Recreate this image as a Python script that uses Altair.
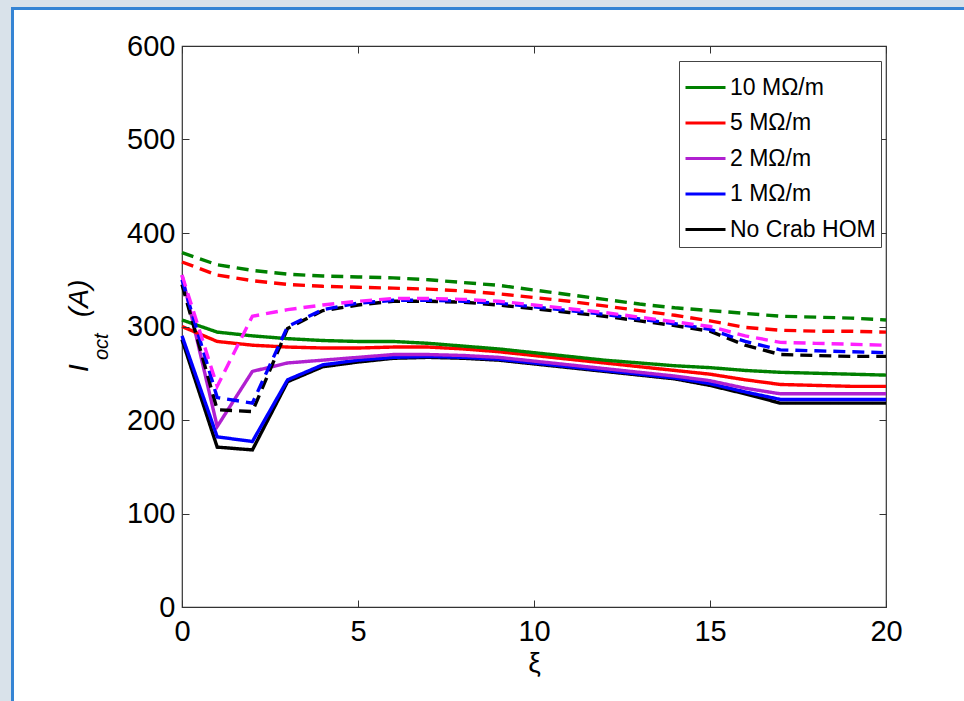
import altair as alt
import pandas as pd

xi = list(range(21))

names = ["10 MΩ/m", "5 MΩ/m", "2 MΩ/m", "1 MΩ/m", "No Crab HOM"]

solid_10 = [307, 294, 290, 287, 285, 284, 284, 282, 279, 276, 272, 268, 264, 261, 258, 256, 253, 251, 250, 249, 248]
solid_5 = [300, 284, 280, 278, 277, 277, 278, 278, 276, 273, 269, 265, 261, 257, 253, 249, 243, 238, 237, 236, 236]
solid_2 = [355, 193, 252, 261, 264, 267, 270, 270, 269, 267, 263, 259, 255, 251, 247, 242, 234, 228, 228, 228, 228]
solid_1 = [290, 182, 177, 243, 259, 264, 267, 268, 267, 265, 261, 257, 253, 249, 245, 239, 230, 222, 222, 222, 222]
solid_0 = [286, 171, 168, 241, 257, 262, 266, 267, 266, 264, 260, 256, 252, 248, 244, 237, 228, 218, 218, 218, 218]

dash_10 = [379, 366, 360, 356, 354, 353, 352, 350, 347, 344, 339, 334, 329, 324, 320, 317, 314, 311, 310, 309, 307]
dash_5 = [369, 355, 349, 345, 343, 342, 341, 340, 338, 335, 331, 327, 322, 317, 312, 306, 299, 296, 295, 295, 294]
dash_2 = [355, 236, 311, 318, 323, 327, 330, 330, 329, 327, 323, 319, 315, 310, 305, 300, 290, 283, 282, 281, 280]
dash_1 = [350, 224, 218, 300, 318, 325, 328, 328, 327, 325, 321, 317, 313, 308, 303, 297, 284, 275, 274, 273, 272]
dash_0 = [345, 211, 209, 298, 317, 323, 327, 327, 326, 323, 319, 315, 311, 306, 301, 295, 280, 270, 269, 268, 268]

solid_colors = ["#008000", "#ff0000", "#b020d0", "#0000ff", "#000000"]
dash_colors = ["#008000", "#ff0000", "#ff20ff", "#0000ff", "#000000"]

series = [
    (names[0], solid_10, dash_10),
    (names[1], solid_5, dash_5),
    (names[2], solid_2, dash_2),
    (names[3], solid_1, dash_1),
    (names[4], solid_0, dash_0),
]

rows = []
order = 0
for name, s, d in reversed(series):
    for x, v in zip(xi, s):
        rows.append({"xi": x, "I": v, "key": name, "kind": "solid", "ord": order})
    order += 1
for name, s, d in reversed(series):
    for x, v in zip(xi, d):
        rows.append({"xi": x, "I": v, "key": name + " dashed", "kind": "dashed", "ord": order})
    order += 1
df = pd.DataFrame(rows)

keys = names + [n + " dashed" for n in names]
colors = solid_colors + dash_colors

FONT = "Liberation Sans"
xscale = alt.Scale(domain=[0, 20], nice=False, zero=False)
yscale = alt.Scale(domain=[0, 600], nice=False)

lines = alt.Chart(df).mark_line(strokeWidth=3.4, strokeCap="butt").encode(
    x=alt.X("xi:Q", scale=xscale, axis=alt.Axis(
        orient="bottom", values=[0, 5, 10, 15, 20], offset=-7, tickSize=7, domain=False,
        grid=False, labelFontSize=29, labelFont=FONT, labelColor="#000", tickColor="#333",
        labelPadding=10, title="ξ", titleFont=FONT, titleFontSize=28, titleFontWeight="normal",
        titleColor="#000", titlePadding=3, zindex=1, labelFlush=False)),
    y=alt.Y("I:Q", scale=yscale, axis=alt.Axis(
        orient="left", values=[0, 100, 200, 300, 400, 500, 600], offset=-7, tickSize=7,
        domain=False, grid=False, labelFontSize=29, labelFont=FONT, labelColor="#000",
        tickColor="#333", labelPadding=7, title=None, zindex=1, labelFlush=False)),
    color=alt.Color("key:N", scale=alt.Scale(domain=keys, range=colors), legend=alt.Legend(
        values=names, title=None, orient="none", legendX=497, legendY=15,
        symbolType="stroke", symbolSize=1600, symbolStrokeWidth=3, labelFontSize=23,
        labelFont=FONT, labelColor="#000", labelOffset=3, strokeColor="#444",
        fillColor="white", padding=5, rowPadding=1.5, zindex=1, symbolOpacity=1)),
    strokeDash=alt.StrokeDash("kind:N", scale=alt.Scale(domain=["solid", "dashed"],
                                                         range=[[1, 0], [12, 7]]), legend=None),
    detail="key:N",
    order="ord:Q",
)

mirror = alt.Chart(df).mark_point(opacity=0, size=1).encode(
    x=alt.X("xi:Q", scale=xscale, axis=alt.Axis(
        orient="top", values=[0, 5, 10, 15, 20], offset=-7, tickSize=7, domain=False,
        grid=False, labels=False, title=None, tickColor="#333", zindex=1)),
    y=alt.Y("I:Q", scale=yscale, axis=alt.Axis(
        orient="right", values=[0, 100, 200, 300, 400, 500, 600], offset=-7, tickSize=7,
        domain=False, grid=False, labels=False, title=None, tickColor="#333", zindex=1)),
)

one = pd.DataFrame({"v": [0]})
ytitle_I = alt.Chart(one).mark_text(text="I", angle=270, align="left", baseline="alphabetic",
                                    font=FONT, fontSize=28, fontStyle="italic", color="#000").encode(
    x=alt.value(-94), y=alt.value(326))
ytitle_oct = alt.Chart(one).mark_text(text="oct", angle=270, align="left", baseline="alphabetic",
                                      font=FONT, fontSize=20, fontStyle="italic", color="#000").encode(
    x=alt.value(-74), y=alt.value(314))
ytitle_A = alt.Chart(one).mark_text(text="(A)", angle=270, align="left", baseline="alphabetic",
                                    font=FONT, fontSize=28, fontStyle="italic", color="#000").encode(
    x=alt.value(-94), y=alt.value(271))

# figure window frame (gray strips + blue border)
strip_top = alt.Chart(one).mark_rect(color="#d9e2ea").encode(
    x=alt.value(-182), x2=alt.value(800), y=alt.value(-46), y2=alt.value(-39))
strip_left = alt.Chart(one).mark_rect(color="#d9e2ea").encode(
    x=alt.value(-182), x2=alt.value(-171), y=alt.value(-46), y2=alt.value(680))
border_top = alt.Chart(one).mark_rule(color="#3584d4", strokeWidth=3).encode(
    x=alt.value(-171), x2=alt.value(800), y=alt.value(-37.5))
border_left = alt.Chart(one).mark_rule(color="#3584d4", strokeWidth=3).encode(
    x=alt.value(-169.5), y=alt.value(-39), y2=alt.value(680))

chart = alt.layer(
    strip_top, strip_left, border_top, border_left,
    lines, mirror, ytitle_I, ytitle_oct, ytitle_A
).resolve_axis(x="independent", y="independent").properties(
    width=704, height=561,
    autosize=alt.AutoSizeParams(type="none"),
    padding={"left": 182, "top": 46, "right": 78, "bottom": 94},
    background="white",
).configure_view(stroke="#333", strokeWidth=1.2)

chart.save("out.html", embed_options={"renderer": "svg", "actions": False})
